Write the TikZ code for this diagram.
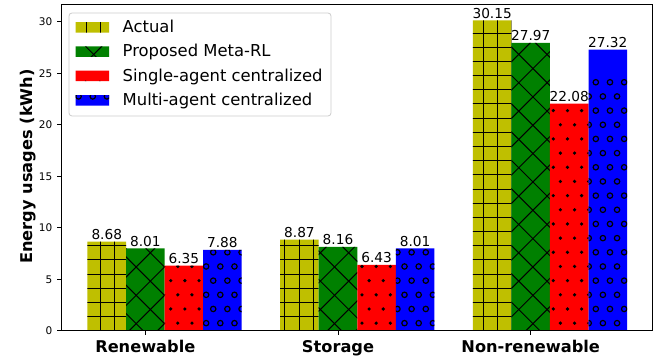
\documentclass[tikz,border=0pt]{standalone}
\usepackage{fontspec}
\setmainfont{DejaVu Sans}
\definecolor{cact}{RGB}{191,191,0}
\definecolor{cmeta}{RGB}{0,128,0}
\definecolor{csing}{RGB}{255,0,0}
\definecolor{cmult}{RGB}{0,0,255}
\definecolor{legedge}{RGB}{204,204,204}
\newcommand{\brect}[2]{({145.3+192.7*(#1)-19.27},331) rectangle ({145.3+192.7*(#1)+19.27},{331-10.3*(#2)})}
\newcommand{\lrect}[1]{(75.5,{#1-5.25}) rectangle (109,{#1+5.25})}
\tikzset{
  hatchline/.style={black, line width=1pt},
  ticklab/.style={font=\fontsize{10.5}{12}\selectfont, inner sep=0pt},
  vallab/.style={font=\fontsize{13.7}{16}\selectfont, inner sep=0pt},
  catlab/.style={font=\fontsize{16.2}{19}\selectfont\bfseries, inner sep=0pt},
  legtext/.style={font=\fontsize{16.4}{19}\selectfont, inner sep=0pt},
  frameline/.style={black, line width=1pt},
}
\begin{document}
\begin{tikzpicture}[x=1pt,y=-1pt]
\useasboundingbox (0,0) rectangle (657,358);
\fill[white] (0,0) rectangle (657,358);

% legend box
\draw[legedge, fill=white, fill opacity=0.8, rounded corners=3pt, line width=0.8pt] (69,13) rectangle (331,116);

% Actual
\fill[cact] \brect{-0.2}{8.68} \brect{0.8}{8.87} \brect{1.8}{30.15} \lrect{27.3};
\begin{scope}
\clip \brect{-0.2}{8.68} \brect{0.8}{8.87} \brect{1.8}{30.15} \lrect{27.3};
\foreach \k in {-30,...,12} \draw[hatchline] ({483.3+14.17*\k},0) -- ++(0,358);
\foreach \k in {-18,...,7} \draw[hatchline] (0,{245.7+14.17*\k}) -- ++(657,0);
\end{scope}

% Proposed Meta-RL
\fill[cmeta] \brect{0}{8.01} \brect{1}{8.16} \brect{2}{27.97} \lrect{51.7};
\begin{scope}
\clip \brect{0}{8.01} \brect{1}{8.16} \brect{2}{27.97} \lrect{51.7};
\foreach \k in {-16,...,22} \draw[hatchline] (-10,{-237.6+28.34*\k-10}) -- (670,{-237.6+28.34*\k+670});
\foreach \k in {-27,...,10} \draw[hatchline] (-10,{743.2+28.34*\k+10}) -- (670,{743.2+28.34*\k-670});
\end{scope}

% Single-agent centralized
\fill[csing] \brect{0.2}{6.35} \brect{1.2}{6.43} \brect{2.2}{22.08} \lrect{75.8};
\begin{scope}
\clip \brect{0.2}{6.35} \brect{1.2}{6.43} \brect{2.2}{22.08} \lrect{75.8};
\foreach \r in {-14,...,6} {
  \pgfmathsetmacro\off{mod(abs(\r),2)*7.085}
  \foreach \c in {-35,...,4}
    \fill[black] ({553.3+14.17*\c+\off},{252.3+14.17*\r}) circle[radius=1.8pt];
}
\end{scope}

% Multi-agent centralized
\fill[cmult] \brect{0.4}{7.88} \brect{1.4}{8.01} \brect{2.4}{27.32} \lrect{100.3};
\begin{scope}
\clip \brect{0.4}{7.88} \brect{1.4}{8.01} \brect{2.4}{27.32} \lrect{100.3};
\foreach \r in {-12,...,6} {
  \pgfmathsetmacro\off{mod(abs(\r),2)*7.085}
  \foreach \c in {-35,...,6}
    \draw[black, line width=1.2pt] ({553.3+14.17*\c+\off},{252.3+14.17*\r}) circle[radius=2.7pt];
}
\end{scope}

% axes frame
\draw[frameline] (61.5,5) rectangle (652.5,331);
% y ticks
\foreach \v in {0,5,10,15,20,25,30} {
  \draw[frameline] (61.5,{331-10.3*\v}) -- ++(-4.5,0);
  \node[ticklab, anchor=east] (yt\v) at (52.5,{331-10.3*\v}) {\v};
}
% x ticks and category labels
\foreach \g/\name/\lab in {0/c1/Renewable, 1/c2/Storage, 2/c3/Non-renewable} {
  \draw[frameline] ({145.3+192.7*\g},331) -- ++(0,4.5);
  \node[catlab, anchor=base] (\name) at ({145.3+192.7*\g},352.7) {\lab};
}
% value labels
\foreach \xc/\v [count=\i] in {-0.2/8.68, 0/8.01, 0.2/6.35, 0.4/7.88, 0.8/8.87, 1/8.16, 1.2/6.43, 1.4/8.01, 1.8/30.15, 2/27.97, 2.2/22.08, 2.4/27.32}
  \node[vallab, anchor=base] (v\i) at ({145.3+192.7*\xc},{331-10.3*\v-2}) {\v};

% y label
\node[catlab, rotate=90, anchor=base] (ylab) at (32,166.5) {Energy usages (kWh)};

% legend texts
\node[legtext, anchor=base west] (l1) at (122.5,32.6) {Actual};
\node[legtext, anchor=base west] (l2) at (122.5,57.0) {Proposed Meta-RL};
\node[legtext, anchor=base west] (l3) at (122.5,81.4) {Single-agent centralized};
\node[legtext, anchor=base west] (l4) at (122.5,105.8) {Multi-agent centralized};
\end{tikzpicture}
\end{document}
